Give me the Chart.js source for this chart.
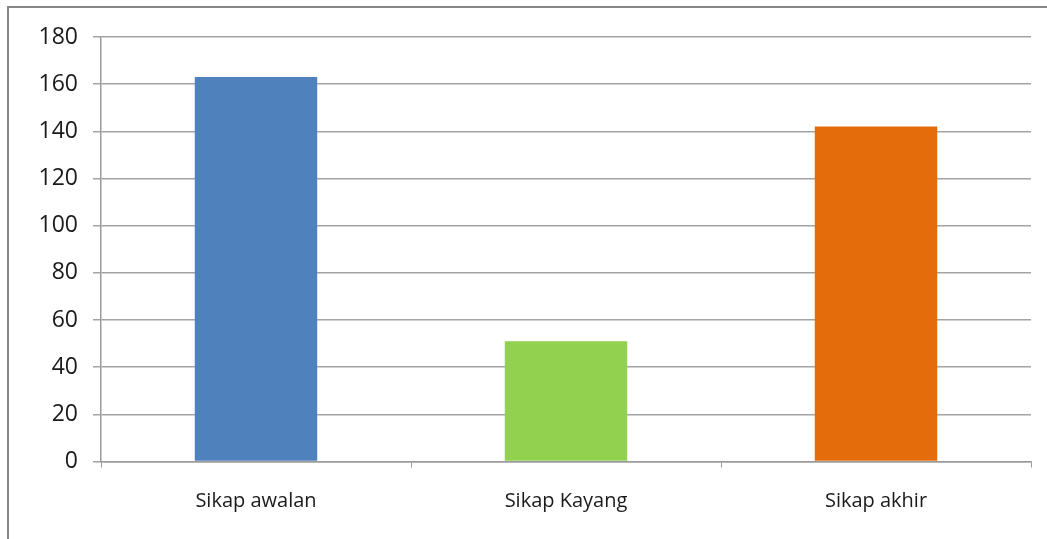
<!DOCTYPE html>
<html>
<head>
<meta charset="utf-8">
<script src="https://cdn.jsdelivr.net/npm/chart.js"></script>
<style>
  html, body { margin: 0; padding: 0; background: #fff; overflow: hidden; }
  .frame {
    position: absolute; left: 7px; top: 6px; width: 1200px; height: 700px;
    border-left: 2px solid #878787; border-top: 2px solid #878787;
  }
  canvas#chart { position: absolute; left: 0; top: 0; }
</style>
</head>
<body>
<div class="frame"></div>
<canvas id="chart" width="1047" height="539"></canvas>
<script>
// data
const categories = ['Sikap awalan', 'Sikap Kayang', 'Sikap akhir'];
const values = [163, 51, 142];
const barColors = ['#4F81BD', '#92D050', '#E46C0A'];
const yTicks = [0, 20, 40, 60, 80, 100, 120, 140, 160, 180];

const ctx = document.getElementById('chart');
new Chart(ctx, {
    type: 'bar',
    data: {
        labels: categories,
        datasets: [{
            data: values,
            backgroundColor: barColors,
            borderWidth: 0,
            barPercentage: 0.395,
            categoryPercentage: 1
        }]
    },
    options: {
        responsive: false,
        animation: false,
        layout: { padding: { top: 37, right: 16, bottom: 0, left: 0 } },
        plugins: { legend: { display: false }, tooltip: { enabled: false } },
        scales: {
            x: {
                grid: { offset: true, drawOnChartArea: false, color: '#9a9a9a', tickLength: 6 },
                border: { color: '#9a9a9a', width: 1.5 },
                ticks: { color: '#1a1a1a', padding: 22, font: { family: 'Open Sans', size: 20 } },
                afterFit: (s) => { s.height = 77.5; }
            },
            y: {
                min: 0, max: 180,
                afterBuildTicks: (s) => { s.ticks = yTicks.map(v => ({ value: v })); },
                grid: { color: '#a3a3a3', lineWidth: 1.5, tickLength: 8 },
                border: { color: '#9a9a9a', width: 1.5 },
                ticks: { color: '#1a1a1a', padding: 15, font: { family: 'Open Sans', size: 23 } },
                afterFit: (s) => { s.width = 101; }
            }
        }
    }
});
</script>
</body>
</html>
